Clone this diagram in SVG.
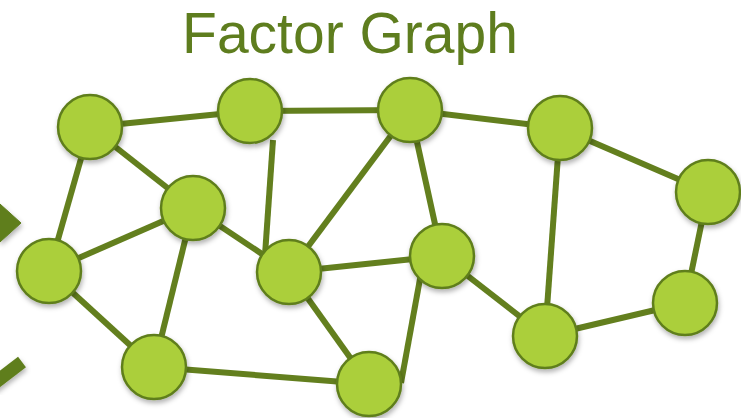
<svg xmlns="http://www.w3.org/2000/svg" width="741" height="418" viewBox="0 0 741 418">
  <defs>
    <filter id="shadow" x="-30%" y="-30%" width="160%" height="170%">
      <feDropShadow dx="1" dy="3" stdDeviation="2.5" flood-color="#000" flood-opacity="0.3"/>
    </filter>
    <style>
      .title { font-family: "Liberation Sans", Arial, sans-serif; font-size: 57px; fill: #5E7D1E; }
      .edge { stroke: #637F1E; stroke-width: 6; fill: none; stroke-linecap: butt; }
      .node circle { fill: #ABCF3A; stroke: #5F7E1C; stroke-width: 2.5; filter: url(#shadow); }
      .mark { fill: #5F7E1C; stroke: #5F7E1C; filter: url(#shadow); }
    </style>
  </defs>
  <rect width="741" height="418" fill="#ffffff"/>

  <text class="title" x="350" y="53" text-anchor="middle">Factor Graph</text>

  <!-- partial chevrons at left edge -->
  <polygon class="mark" points="0,204 21,223 0,242"/>
  <line class="mark" x1="22" y1="362" x2="-8" y2="385" stroke-width="13"/>

  <g id="connectors">
    <line class="edge" x1="90" y1="127" x2="250" y2="111"/>
    <line class="edge" x1="250" y1="111" x2="410" y2="110"/>
    <line class="edge" x1="410" y1="110" x2="560" y2="128"/>
    <line class="edge" x1="560" y1="128" x2="708" y2="192"/>
    <line class="edge" x1="90" y1="127" x2="193" y2="208"/>
    <line class="edge" x1="90" y1="127" x2="49" y2="271"/>
    <line class="edge" x1="193" y1="208" x2="49" y2="271"/>
    <line class="edge" x1="193" y1="208" x2="289" y2="272"/>
    <line class="edge" x1="193" y1="208" x2="154" y2="367"/>
    <line class="edge" x1="49" y1="271" x2="154" y2="367"/>
    <line class="edge" x1="273" y1="140" x2="265" y2="255"/>
    <line class="edge" x1="410" y1="110" x2="289" y2="272"/>
    <line class="edge" x1="410" y1="110" x2="442" y2="256"/>
    <line class="edge" x1="289" y1="272" x2="442" y2="256"/>
    <line class="edge" x1="289" y1="272" x2="369" y2="384"/>
    <line class="edge" x1="154" y1="367" x2="369" y2="384"/>
    <line class="edge" x1="422" y1="268" x2="401" y2="383"/>
    <line class="edge" x1="442" y1="256" x2="545" y2="336"/>
    <line class="edge" x1="560" y1="128" x2="545" y2="336"/>
    <line class="edge" x1="545" y1="336" x2="685" y2="303"/>
    <line class="edge" x1="685" y1="303" x2="708" y2="192"/>
  </g>

  <g id="n1" class="node"><circle cx="90" cy="127" r="32"/></g>
  <g id="n2" class="node"><circle cx="250" cy="111" r="32"/></g>
  <g id="n3" class="node"><circle cx="410" cy="110" r="32"/></g>
  <g id="n4" class="node"><circle cx="560" cy="128" r="32"/></g>
  <g id="n5" class="node"><circle cx="708" cy="192" r="32"/></g>
  <g id="n6" class="node"><circle cx="193" cy="208" r="32"/></g>
  <g id="n7" class="node"><circle cx="49" cy="271" r="32"/></g>
  <g id="n8" class="node"><circle cx="289" cy="272" r="32"/></g>
  <g id="n9" class="node"><circle cx="442" cy="256" r="32"/></g>
  <g id="n10" class="node"><circle cx="685" cy="303" r="32"/></g>
  <g id="n11" class="node"><circle cx="545" cy="336" r="32"/></g>
  <g id="n12" class="node"><circle cx="154" cy="367" r="32"/></g>
  <g id="n13" class="node"><circle cx="369" cy="384" r="32"/></g>
</svg>
